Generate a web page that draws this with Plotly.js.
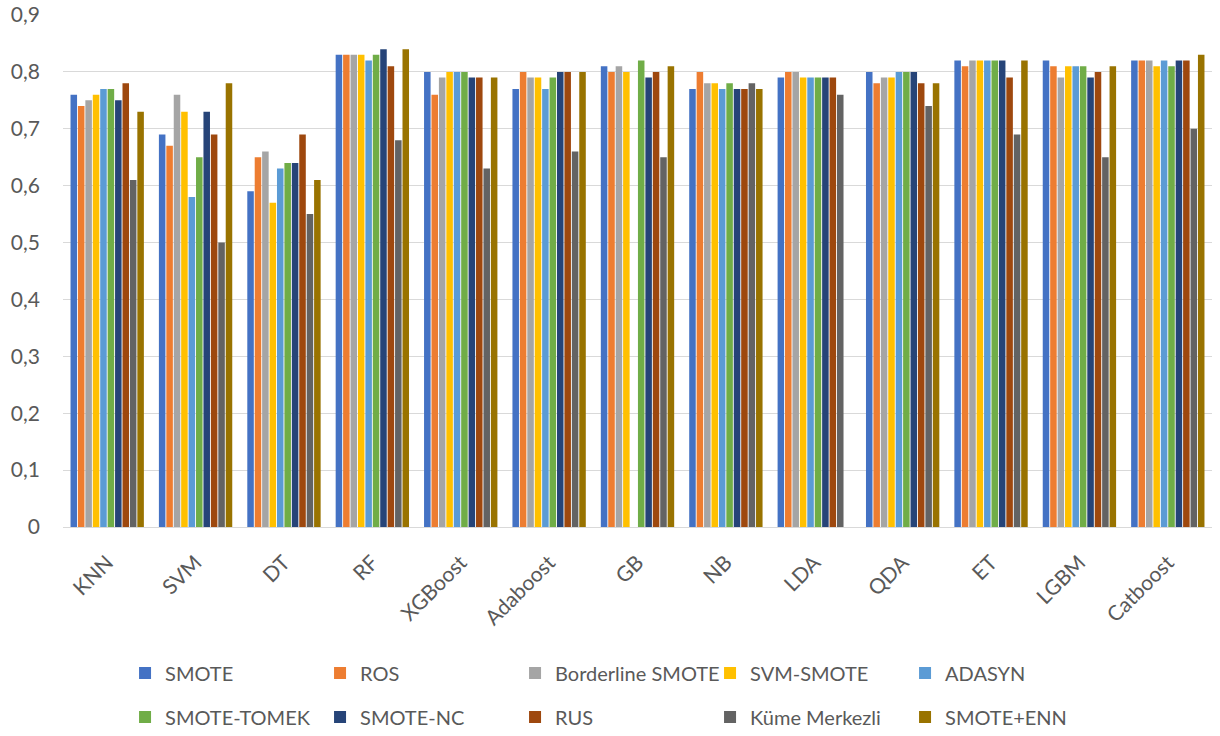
<!DOCTYPE html>
<html>
<head>
<meta charset="utf-8">
<script src="https://cdn.plot.ly/plotly-3.0.1.min.js"></script>
<style>html,body{margin:0;padding:0;background:#fff;}#chart{width:1220px;height:736px;}</style>
</head>
<body>
<div id="chart"></div>
<script>
const categories = ["KNN","SVM","DT","RF","XGBoost","Adaboost","GB","NB","LDA","QDA","ET","LGBM","Catboost"];
const seriesNames = ["SMOTE","ROS","Borderline SMOTE","SVM-SMOTE","ADASYN","SMOTE-TOMEK","SMOTE-NC","RUS","Küme Merkezli","SMOTE+ENN"];
const seriesColors = ["#4472C4","#ED7D31","#A5A5A5","#FFC000","#5B9BD5","#70AD47","#264478","#9E480E","#636363","#997300"];

const smote      = [0.76,0.69,0.59,0.83,0.80,0.77,0.81,0.77,0.79,0.80,0.82,0.82,0.82];
const ros        = [0.74,0.67,0.65,0.83,0.76,0.80,0.80,0.80,0.80,0.78,0.81,0.81,0.82];
const borderline = [0.75,0.76,0.66,0.83,0.79,0.79,0.81,0.78,0.80,0.79,0.82,0.79,0.82];
const svmSmote   = [0.76,0.73,0.57,0.83,0.80,0.79,0.80,0.78,0.79,0.79,0.82,0.81,0.81];
const adasyn     = [0.77,0.58,0.63,0.82,0.80,0.77,null,0.77,0.79,0.80,0.82,0.81,0.82];
const smoteTomek = [0.77,0.65,0.64,0.83,0.80,0.79,0.82,0.78,0.79,0.80,0.82,0.81,0.81];
const smoteNc    = [0.75,0.73,0.64,0.84,0.79,0.80,0.79,0.77,0.79,0.80,0.82,0.79,0.82];
const rus        = [0.78,0.69,0.69,0.81,0.79,0.80,0.80,0.77,0.79,0.78,0.79,0.80,0.82];
const kume       = [0.61,0.50,0.55,0.68,0.63,0.66,0.65,0.78,0.76,0.74,0.69,0.65,0.70];
const smoteEnn   = [0.73,0.78,0.61,0.84,0.79,0.80,0.81,0.77,null,0.78,0.82,0.81,0.83];

const yTickVals = [0,0.1,0.2,0.3,0.4,0.5,0.6,0.7,0.8,0.9];
const yTickText = ["0","0,1","0,2","0,3","0,4","0,5","0,6","0,7","0,8","0,9"];

const allSeries = [smote,ros,borderline,svmSmote,adasyn,smoteTomek,smoteNc,rus,kume,smoteEnn];

const traces = allSeries.map((vals,i)=>({
  type:"bar",
  name: seriesNames[i],
  x: categories,
  y: vals,
  legend: i < 5 ? "legend" : "legend2",
  marker:{color: seriesColors[i]},
  hoverinfo:"x+y+name"
}));

const font = "Lato, Open Sans, sans-serif";
const legendBase = {
  orientation:"h",
  x:0.054, xanchor:"left",
  yanchor:"middle",
  entrywidth:150, entrywidthmode:"pixels",
  font:{size:20, color:"#595959", family:font},
  traceorder:"normal",
  itemwidth:30,
  tracegroupgap:0,
  bgcolor:"rgba(0,0,0,0)"
};
const layout = {
  width:1220, height:736,
  margin:{l:63, r:8, t:15, b:209, autoexpand:false},
  paper_bgcolor:"#ffffff", plot_bgcolor:"#ffffff",
  barmode:"group",
  bargap:0.16,
  bargroupgap:0.12,
  showlegend:true,
  font:{family:font, color:"#595959", size:20},
  xaxis:{
    type:"category",
    tickangle:-45,
    tickfont:{size:21, color:"#595959", family:font},
    ticklabelstandoff:14,
    showgrid:false,
    showline:true, linecolor:"#d9d9d9", linewidth:1,
    ticks:"", zeroline:false, automargin:false
  },
  yaxis:{
    range:[0,0.9],
    tickvals:yTickVals, ticktext:yTickText,
    tickfont:{size:21, color:"#595959", family:font},
    showgrid:true, gridcolor:"#d9d9d9", gridwidth:1,
    zeroline:false, showline:false, ticks:"",
    ticklabelstandoff:22, automargin:false
  },
  legend: Object.assign({}, legendBase, {y:-0.285}),
  legend2: Object.assign({}, legendBase, {y:-0.371})
};

Plotly.newPlot("chart", traces, layout, {displayModeBar:false, responsive:false});
</script>
</body>
</html>
